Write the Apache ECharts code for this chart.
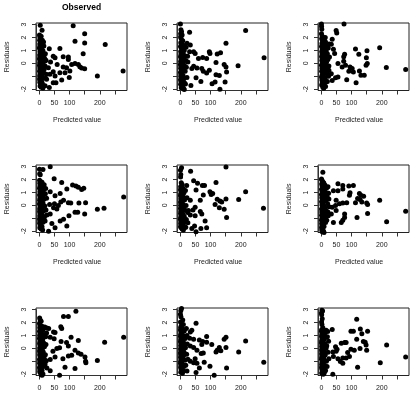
<!DOCTYPE html>
<html>
<head>
<meta charset="utf-8">
<script src="https://cdn.jsdelivr.net/npm/echarts@6/dist/echarts.min.js"></script>
<style>
html, body { margin: 0; padding: 0; background: #fff; }
#main { width: 416px; height: 399px; }
</style>
</head>
<body>
<div id="main"></div>
<script>
// tick values and labels (R drops the ones that would overlap)
var xTicks = [0, 50, 100, 150, 200, 250];
var xTickLabels = ['0', '50', '100', '', '200', ''];
var yTicks = [-2, -1, 0, 1, 2, 3];
var yTickLabels = ['-2', '', '0', '1', '2', '3'];
var titles = ['Observed', '', '', '', '', '', '', '', ''];

// [predicted value, residual]
var obs = [[0.5,2.2],[2,2.0],[1,1.8],[4,1.7],[7,1.6],[1.5,1.5],[3,1.35],[9,1.25],[0.8,1.15],[5,1.05],[12,0.98],[2,0.9],[6,0.82],[14,0.72],[1,0.66],[8,0.58],[3.5,0.5],[17,0.42],[0.5,0.35],[5.5,0.28],[10,0.22],[2.5,0.15],[13,0.1],[1.2,0.04],[7,-0.02],[4,-0.1],[0.6,-0.16],[19,-0.2],[3,-0.27],[9,-0.33],[1.8,-0.4],[6,-0.47],[12,-0.53],[0.9,-0.6],[4.5,-0.68],[15,-0.74],[2.2,-0.82],[8,-0.9],[1,-0.98],[5,-1.05],[11,-1.12],[0.7,-1.2],[3.2,-1.3],[7.5,-1.38],[1.6,-1.47],[10,-1.55],[4,-1.64],[2.5,-1.76],[6,-1.85],[12,-1.9],[21,-1.15],[23,-0.85],[20,0.75],[22,0.25],[16,-0.45],[15,1.35],[14,1.65],[10,1.8],[6,2.1],[2,0.45],[3,-0.55],[1,1.25],[5,0.65],[8,-0.6],
  [112,2.92],[150,2.3],[118,1.72],[150,1.59],[218,1.46],[145,0.74],[68,1.15],[33,1.13],[79,0.51],[96,0.49],[96,0.31],[118,0],[129,-0.08],[134,-0.26],[140,-0.36],[150,-0.41],[277,-0.59],[192,-0.97],[101,-0.59],[99,-1.1],[74,-1.28],[46,-1.49],[55,-1.49],[33,-1.87],[19,-1.74],[3,2.95],[9,2.56],[46,0.56],[52,0.44],[37,0.1],[59,-0.08],[79,-0.28],[68,-0.72],[46,-0.64],[30,-0.33],[35,-0.85],[52,-0.97],[24,-1.23],[85,-0.72],[90,-0.33],[107,-0.08],[19,0.18]];

var null1 = [[0.3,3.05],[2,2.6],[4,2.45],[1,2.3],[6,2.2],[0.8,2.05],[3,1.9],[8,1.75],[1.5,1.6],[5,1.5],[10,1.4],[0.6,1.3],[3.5,1.2],[7,1.1],[13,1.0],[1.2,0.92],[4.5,0.85],[9,0.76],[2,0.68],[15,0.6],[0.5,0.52],[6,0.45],[11,0.38],[2.8,0.3],[18,0.22],[1,0.15],[8,0.08],[4,0.0],[0.4,-0.08],[13,-0.14],[2.5,-0.22],[6.5,-0.3],[1.1,-0.38],[10,-0.45],[3.8,-0.53],[16,-0.6],[0.7,-0.68],[5.5,-0.76],[2,-0.85],[9,-0.93],[1.3,-1.02],[4,-1.1],[12,-1.18],[0.6,-1.27],[7,-1.36],[2.6,-1.45],[14,-1.52],[1,-1.62],[5,-1.7],[8,-1.8],[3,-1.88],[11,-1.96],[13,-2.02],[20,-0.3],[24,0.55],[19,1.25],[22,-1.1],[17,-1.6],[25,0.1],[4,0.6],[7,-0.15],
  [30.6,2.42],[216,2.55],[151,1.56],[22,1.56],[33,1.43],[30.6,0.9],[44,0.9],[49,0.77],[60,0.38],[74,0.46],[87,0.38],[96,0.9],[98,0.77],[122,0.72],[133,0.83],[118,0.07],[145,-0.09],[151,-0.27],[191,-0.19],[277,0.43],[153,-0.66],[96,-0.53],[87,-0.74],[76,-0.61],[71,-0.4],[55,-0.35],[44,-0.22],[38,-0.4],[118,-0.87],[129,-0.93],[115,-1.45],[105,-1.58],[68,-1.4],[52,-1.11],[148,-1.45],[131,-2.0],[35,-1.71]];

var null2 = [[0.4,3.05],[0.8,2.85],[1.5,2.65],[0.5,2.3],[3,2.1],[6,2.0],[1,1.9],[10,1.82],[4,1.72],[14,1.65],[2,1.55],[8,1.45],[18,1.38],[0.6,1.3],[5,1.2],[12,1.12],[3,1.05],[16,0.97],[1.2,0.9],[7,0.82],[20,0.75],[2.5,0.68],[10,0.6],[0.8,0.52],[14,0.45],[4.5,0.38],[22,0.3],[1.5,0.22],[8,0.15],[17,0.08],[3,0.0],[12,-0.07],[0.5,-0.14],[6,-0.22],[19,-0.3],[2,-0.37],[9,-0.45],[15,-0.52],[1,-0.6],[4,-0.68],[11,-0.75],[21,-0.83],[2.7,-0.9],[7,-0.98],[0.6,-1.05],[13,-1.12],[4.5,-1.2],[1.8,-1.28],[9,-1.36],[16,-1.44],[3,-1.52],[6,-1.6],[1,-1.68],[11,-1.75],[5,-1.85],[8,-1.92],[23,1.2],[25,-0.2],[24,-1.0],[27,0.5],[20,-1.4],[26,1.5],[13,2.0],[9,0.3],[5,-0.3],
  [75,3.05],[49,2.55],[51,2.35],[36,1.87],[33,1.48],[40,1.09],[44,0.77],[113,1.11],[151,0.98],[193,1.22],[124,0.7],[149,0.43],[152,-0.01],[148,-0.14],[77,0.7],[74,0.51],[74,0.17],[55,-0.01],[69,-0.27],[80,-0.14],[95,-0.27],[102,-0.4],[91,-0.61],[106,-0.66],[126,-0.58],[131,-0.92],[142,-0.92],[215,-0.32],[279,-0.48],[84,-1.27],[115,-1.5],[47,-1.11],[55,-1.06],[33,-0.8],[36,-1.32],[25,-0.53],[14,-1.79]];

var null3 = [[0.5,2.8],[1.2,2.45],[3,2.38],[0.8,1.95],[4,1.85],[1.5,1.72],[7,1.62],[2,1.5],[10,1.42],[0.6,1.33],[5,1.22],[13,1.15],[1.8,1.05],[8,0.97],[3.5,0.88],[0.7,0.8],[11,0.72],[5.5,0.64],[2,0.56],[15,0.48],[1,0.4],[7,0.33],[3,0.25],[12,0.18],[0.5,0.1],[5,0.03],[18,-0.04],[2.2,-0.12],[9,-0.2],[1,-0.28],[4,-0.36],[14,-0.43],[0.8,-0.5],[6,-0.58],[2.5,-0.66],[10,-0.74],[1.3,-0.82],[17,-0.9],[4,-0.98],[0.6,-1.06],[7.5,-1.14],[2,-1.22],[12,-1.3],[1,-1.38],[5,-1.47],[3,-1.56],[9,-1.65],[1.5,-1.74],[6,-1.82],[11,-1.9],[20,0.9],[22,-0.35],[24,0.55],[19,-1.2],[21,1.3],[25,-0.75],[16,1.6],[9,1.8],[4,0.7],[8,-0.45],
  [36,3.0],[12,2.79],[49,2.07],[74,1.78],[110,1.59],[121,1.51],[129,1.4],[140,1.24],[147,1.32],[91,1.27],[36,1.06],[69,0.93],[52,0.74],[80,0.39],[71,0.26],[96,0.21],[104,0.18],[131,0.18],[153,0.21],[279,0.66],[214,-0.22],[192,-0.3],[50,0.13],[63,0],[34,0.07],[47,-0.19],[58,-0.27],[118,-0.54],[127,-0.54],[150,-0.67],[98,-0.8],[80,-1.07],[69,-1.2],[91,-1.6],[41.5,-1.41],[52,-1.73],[30.6,-2.0],[36,-0.67]];

var null4 = [[4,2.92],[0.5,2.72],[1.5,2.4],[0.8,2.2],[3,1.75],[6,1.62],[1,1.45],[4,1.38],[9,1.3],[0.6,1.22],[2.5,1.14],[7,1.06],[12,0.98],[1.2,0.9],[5,0.82],[0.5,0.74],[10,0.66],[3,0.58],[1.5,0.5],[14,0.42],[6,0.34],[0.7,0.26],[2.5,0.18],[8,0.1],[1,0.02],[4.5,-0.06],[11,-0.14],[0.6,-0.22],[3,-0.3],[16,-0.38],[1.5,-0.46],[6,-0.54],[0.8,-0.62],[9,-0.7],[2.5,-0.78],[13,-0.86],[1,-0.94],[5,-1.02],[0.5,-1.1],[7.5,-1.18],[2,-1.26],[12,-1.34],[1,-1.42],[4,-1.5],[9,-1.58],[0.7,-1.66],[3,-1.74],[6,-1.82],[10,-1.9],[18,-1.7],[20,-1.1],[22,0.6],[19,0.0],[24,-0.55],[17,1.15],[21,1.55],[25,-1.35],[13,-1.75],[8,0.45],[3.5,-1.0],
  [34,2.65],[44,1.9],[57,1.72],[73,1.54],[80,1.54],[118,1.78],[151,2.97],[216,1.06],[193,0.45],[98,1.06],[102,0.85],[107,0.93],[76,0.8],[66,0.39],[52,1.19],[33,0.39],[122,0.47],[131,0.34],[137,0.26],[151,0.5],[115,0.07],[129,-0.19],[145,-0.3],[275,-0.22],[153,-0.94],[82,-1.2],[71,-0.67],[66,-0.48],[49,-0.14],[42,-0.35],[27,-0.4],[33,-0.75],[49,-0.8],[47,-1.6],[38,-1.79],[52,-2.05],[68,-1.79],[87,-1.73]];

var null5 = [[5,2.57],[0.5,2.05],[2,1.95],[4,1.85],[8,1.75],[1,1.65],[12,1.58],[3,1.48],[6,1.4],[17,1.32],[0.7,1.25],[10,1.15],[2.5,1.08],[14,1.0],[5,0.92],[0.5,0.84],[8,0.76],[19,0.68],[1.5,0.6],[11,0.52],[3.5,0.44],[15,0.36],[0.8,0.28],[6,0.2],[21,0.12],[2,0.04],[9,-0.04],[4,-0.12],[13,-0.2],[0.6,-0.28],[7,-0.36],[16,-0.44],[1.5,-0.52],[3.5,-0.6],[10,-0.68],[0.8,-0.76],[5,-0.84],[12,-0.92],[2,-1.0],[8,-1.08],[0.5,-1.16],[4,-1.24],[14,-1.32],[1,-1.4],[6,-1.48],[2.5,-1.56],[9,-1.64],[0.7,-1.72],[4,-1.8],[1.5,-1.9],[7,-1.98],[3,-2.05],[9,-2.1],[24,0.95],[26,-0.1],[23,-0.8],[25,0.5],[22,1.45],[18,-1.15],[20,-0.5],
  [55,1.67],[71,1.54],[71,1.27],[91,1.51],[106,1.54],[40,1.14],[55,1.14],[95,0.98],[93,0.79],[126,0.93],[131,0.79],[140,0.71],[120,0.53],[128,0.45],[113,0.21],[134,0.26],[150,0.18],[153,0.07],[193,0.39],[279,-0.46],[71,0.18],[84,0.21],[60,0.13],[49,0.39],[47,-0.01],[36,-0.14],[22,-0.54],[33,-0.67],[49,-0.4],[77,-0.67],[71,-1.15],[77,-0.94],[118,-0.94],[153,-0.62],[216,-1.26],[40,-1.33],[66,-1.33]];

var null6 = [[1,2.35],[3,2.2],[6,2.1],[0.6,1.95],[2,1.82],[9,1.72],[1.2,1.6],[4,1.5],[12,1.42],[0.7,1.33],[6,1.24],[2.5,1.15],[15,1.08],[1,1.0],[8,0.92],[3.5,0.84],[0.5,0.76],[11,0.68],[5,0.6],[1.8,0.52],[14,0.44],[0.8,0.36],[7,0.28],[3,0.2],[17,0.12],[1,0.04],[10,-0.04],[4.5,-0.12],[0.6,-0.2],[13,-0.28],[2.2,-0.36],[6.5,-0.44],[1,-0.52],[9,-0.6],[3.5,-0.68],[16,-0.76],[0.7,-0.84],[5,-0.92],[2,-1.0],[11,-1.08],[1,-1.16],[7,-1.24],[3,-1.32],[14,-1.4],[0.6,-1.48],[5,-1.56],[2,-1.64],[9,-1.72],[1.2,-1.8],[4,-1.9],[12,-1.98],[6,-2.05],[20,-0.5],[22,0.3],[24,1.2],[19,-1.2],[21,0.9],[18,1.65],[23,-0.95],[8,-0.3],
  [121,2.87],[80,2.47],[96,2.47],[25,1.59],[31,1.54],[71,1.67],[74,1.54],[47,1.27],[52,1.24],[36,0.87],[49,0.74],[105,0.87],[72,0.53],[90,0.45],[129,0.61],[216,0.47],[279,0.87],[67,0.05],[96,0.18],[118,-0.14],[129,-0.35],[138,-0.46],[151,-0.67],[153,-0.99],[154,-1.12],[192,-0.94],[107,-0.54],[96,-0.59],[78,-0.8],[52,-0.67],[36,-0.86],[45,-0.22],[58,0],[85,-1.47],[118,-1.55],[67,-2.08],[60,-2.13],[25,-1.52],[36,-1.73],[9,-2.08]];

var null7 = [[4,3.1],[1.5,2.92],[0.3,2.65],[2,2.45],[8,2.2],[0.6,2.05],[10,1.86],[3,1.75],[1,1.62],[6,1.52],[0.5,1.42],[13,1.35],[2.5,1.26],[5,1.17],[1,1.08],[9,1.0],[0.6,0.92],[3.5,0.84],[16,0.76],[1.2,0.68],[7,0.6],[0.4,0.52],[11,0.44],[2.5,0.36],[5,0.28],[1,0.2],[14,0.12],[3,0.04],[0.7,-0.04],[8,-0.12],[2,-0.2],[12,-0.28],[0.5,-0.36],[4.5,-0.44],[1.5,-0.52],[10,-0.6],[0.8,-0.68],[6,-0.76],[2.5,-0.84],[15,-0.92],[1,-1.0],[4,-1.08],[0.6,-1.16],[8,-1.24],[2,-1.32],[12,-1.4],[1,-1.48],[5,-1.56],[3,-1.66],[9,-1.74],[1.5,-1.84],[7,-1.92],[19,0.9],[21,-0.45],[23,0.35],[18,-1.3],[20,1.55],[25,-0.85],[22,-1.75],[17,0.05],
  [52,1.94],[38,1.4],[33,1.27],[22,1.0],[31,0.79],[44,0.71],[63,0.66],[87,0.93],[74,0.53],[87,0.47],[71,0.31],[104,0.31],[151,0.87],[145,0.71],[216,0.58],[129,0.07],[122,-0.14],[134,-0.19],[118,-0.27],[151,0.07],[193,-0.27],[276,-1.07],[76,-0.35],[69,-0.4],[55,-0.14],[44,0.07],[33,0.18],[49,-0.8],[33,-0.99],[44,-1.12],[55,-1.15],[79,-1.07],[98,-1.39],[153,-1.52],[63,-1.52],[52,-1.87],[112,-2.08],[5,-1.81]];

var null8 = [[2,2.95],[4,2.9],[0.5,2.75],[1.2,2.6],[3,2.3],[0.8,2.05],[2,1.85],[5,1.6],[1,1.45],[8,1.4],[0.5,1.32],[3,1.24],[11,1.16],[1.5,1.08],[6,1.0],[0.7,0.92],[14,0.84],[2.5,0.76],[9,0.68],[1,0.6],[4.5,0.52],[0.5,0.44],[12,0.36],[2,0.28],[7,0.2],[1,0.12],[16,0.04],[3.5,-0.04],[0.6,-0.12],[10,-0.2],[2,-0.28],[5.5,-0.36],[0.8,-0.44],[13,-0.52],[3,-0.6],[1.2,-0.68],[8,-0.76],[0.5,-0.84],[4.5,-0.92],[17,-1.0],[2,-1.08],[6.5,-1.16],[1,-1.24],[11,-1.32],[3,-1.4],[0.7,-1.48],[8,-1.56],[2,-1.64],[14,-1.72],[4,-1.8],[1,-1.9],[6,-2.0],[9,-1.95],[20,0.9],[22,-0.3],[19,-1.4],[24,0.55],[21,1.3],[25,-0.8],[18,0.2],
  [117,2.26],[36,1.46],[16,1.4],[98,1.32],[106,1.32],[129,1.51],[134,1.14],[153,1.32],[117,0.71],[77,0.45],[82,0.45],[66,0.39],[139,0.53],[145,0.47],[148,0.26],[150,-0.14],[128,0.0],[109,-0.14],[98,-0.06],[87,-0.32],[47,0.13],[52,-0.06],[49,-0.22],[38,-0.27],[40,-0.62],[55,-0.8],[71,-0.75],[82,-0.75],[93,-0.62],[63,-1.02],[71,-1.15],[216,0.26],[195,-1.12],[279,-0.67],[120,-1.47],[38,-2.0],[0,-2.13],[11,-1.79]];

var panels = [obs, null1, null2, null3, null4, null5, null6, null7, null8];

// page layout (pixels) and data window of each plot box
var colLeft = [36, 177, 318];
var rowTop = [23, 165, 308];
var boxW = 91, boxH = 67.5;
var xMin = -11, xMax = 290, yMin = -2.1, yMax = 3.13;
var font = 'Liberation Sans, Arial, sans-serif';

var grid = [], xAxis = [], yAxis = [], series = [], title = [];

panels.forEach(function (data, i) {
  var row = Math.floor(i / 3);
  var L = colLeft[i % 3], T = rowTop[row];
  var g = grid.length;

  // plot box with the points
  grid.push({ left: L, top: T, width: boxW, height: boxH, show: true, borderColor: '#222', borderWidth: 1 });
  xAxis.push({ gridIndex: g, type: 'value', min: xMin, max: xMax, show: false });
  yAxis.push({ gridIndex: g, type: 'value', min: yMin, max: yMax, show: false });
  series.push({
    type: 'scatter', xAxisIndex: g, yAxisIndex: g, data: data,
    symbolSize: 5, itemStyle: { color: '#000', opacity: 1 }, silent: true, animation: false
  });

  // R style x axis: line only from first to last tick
  var xFirst = xTicks[0], xLast = xTicks[xTicks.length - 1];
  grid.push({
    left: L + (xFirst - xMin) / (xMax - xMin) * boxW,
    width: (xLast - xFirst) / (xMax - xMin) * boxW,
    top: T, height: boxH
  });
  xAxis.push({
    gridIndex: g + 1, type: 'value', min: xFirst, max: xLast, interval: xTicks[1] - xTicks[0],
    position: 'bottom', offset: 4,
    axisLine: { show: true, lineStyle: { color: '#333', width: 1 } },
    axisTick: { show: true, length: 4, lineStyle: { color: '#333' } },
    splitLine: { show: false },
    axisLabel: {
      margin: 5, fontSize: 7, fontFamily: font, color: '#222',
      showMinLabel: true, showMaxLabel: true,
      formatter: function (v) { var k = xTicks.indexOf(v); return k < 0 ? '' : xTickLabels[k]; }
    },
    name: row < 2 ? 'Predicted value' : '', nameLocation: 'middle', nameGap: 22,
    nameTextStyle: { fontSize: 7, fontFamily: font, color: '#222' }
  });
  yAxis.push({ gridIndex: g + 1, type: 'value', show: false });

  // R style y axis
  var yFirst = yTicks[0], yLast = yTicks[yTicks.length - 1];
  grid.push({
    left: L, width: boxW,
    top: T + (yMax - yLast) / (yMax - yMin) * boxH,
    height: (yLast - yFirst) / (yMax - yMin) * boxH
  });
  xAxis.push({ gridIndex: g + 2, type: 'value', show: false });
  yAxis.push({
    gridIndex: g + 2, type: 'value', min: yFirst, max: yLast, interval: 1,
    position: 'left', offset: 4,
    axisLine: { show: true, lineStyle: { color: '#333', width: 1 } },
    axisTick: { show: true, length: 4, lineStyle: { color: '#333' } },
    splitLine: { show: false },
    axisLabel: {
      margin: 4, rotate: 90, fontSize: 7, fontFamily: font, color: '#222',
      showMinLabel: true, showMaxLabel: true,
      formatter: function (v) { var k = yTicks.indexOf(v); return k < 0 ? '' : yTickLabels[k]; }
    },
    name: 'Residuals', nameLocation: 'middle', nameGap: 21,
    nameTextStyle: { fontSize: 7, fontFamily: font, color: '#222' }
  });

  if (titles[i]) {
    title.push({
      text: titles[i], left: L + boxW / 2, top: 3, padding: 0, textAlign: 'center',
      textStyle: { fontSize: 8.5, fontWeight: 'bold', fontFamily: font, color: '#000' }
    });
  }
});

var chart = echarts.init(document.getElementById('main'), null, { renderer: 'canvas' });
chart.setOption({
  animation: false,
  backgroundColor: '#fff',
  title: title,
  grid: grid,
  xAxis: xAxis,
  yAxis: yAxis,
  series: series
});
</script>
</body>
</html>
